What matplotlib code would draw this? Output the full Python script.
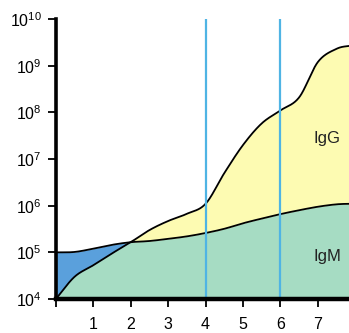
import numpy as np
import matplotlib
matplotlib.use("Agg")
import matplotlib.pyplot as plt

plt.rcParams['font.family'] = ['Liberation Sans Narrow', 'Liberation Sans', 'DejaVu Sans']
plt.rcParams['mathtext.default'] = 'regular'

# months after birth
months = [0, 0.5, 1, 1.5, 2, 2.5, 3, 3.5, 4, 4.5, 5, 5.5, 6, 6.5, 7, 7.5, 7.9]
# upper curve in first 2 months, then IgM
igm_curve = [1e5, 1.02e5, 1.2e5, 1.45e5, 1.65e5, 1.75e5, 1.95e5, 2.2e5, 2.6e5,
             3.2e5, 4.2e5, 5.3e5, 6.6e5, 8e5, 9.5e5, 1.07e6, 1.1e6]
# rising curve, then IgG
igg_curve = [1e4, 3.0e4, 5.3e4, 9.5e4, 1.65e5, 3e5, 4.7e5, 6.7e5, 1.1e6,
             5e6, 2e7, 5.8e7, 1.1e8, 2.1e8, 1.2e9, 2.3e9, 2.7e9]
xtick_labels = ['', '1', '2', '3', '4', '5', '6', '7']
vlines = [4, 6]


def smooth(x, y, n=400):
    # catmull-rom through the points, in log space
    x = np.asarray(x, float)
    ly = np.log10(y)
    px = np.concatenate([[2 * x[0] - x[1]], x, [2 * x[-1] - x[-2]]])
    py = np.concatenate([[2 * ly[0] - ly[1]], ly, [2 * ly[-1] - ly[-2]]])
    xs, ys = [], []
    for i in range(1, len(px) - 2):
        t = np.linspace(0, 1, 40, endpoint=False)
        for arr, out in ((px, xs), (py, ys)):
            p0, p1, p2, p3 = arr[i - 1], arr[i], arr[i + 1], arr[i + 2]
            out.extend(0.5 * ((2 * p1) + (-p0 + p2) * t
                              + (2 * p0 - 5 * p1 + 4 * p2 - p3) * t ** 2
                              + (-p0 + 3 * p1 - 3 * p2 + p3) * t ** 3))
    xs.append(x[-1]); ys.append(ly[-1])
    return np.array(xs), 10 ** np.array(ys)


xs, a = smooth(months, igm_curve)
_, b = smooth(months, igg_curve)

fig = plt.figure(figsize=(3.49, 3.33), dpi=100)
ax = fig.add_axes([0.160, 0.102, 0.84, 0.841])

ax.fill_between(xs, 1e4, np.minimum(a, b), color='#a6dcc3', lw=0)
ax.fill_between(xs, b, a, where=a >= b, interpolate=True, color='#5aa0dc', lw=0)
ax.fill_between(xs, a, b, where=b >= a, interpolate=True, color='#fdfbb2', lw=0)
ax.plot(xs, a, color='black', lw=1.3)
ax.plot(xs, b, color='black', lw=1.3)
for v in vlines:
    ax.axvline(v, color='#4fb4e4', lw=1.6)

ax.text(7.25, 2.8e7, 'IgG', fontsize=12, color='#222222', ha='center', va='center')
ax.text(7.25, 8e4, 'IgM', fontsize=12, color='#222222', ha='center', va='center')

ax.set_yscale('log')
ax.set_ylim(1e4, 1e10)
ax.set_xlim(0, 7.83)
ax.set_yticks([10.0 ** k for k in range(4, 11)])
ax.set_yticklabels(['$10^{%d}$' % k for k in range(4, 11)])
ax.yaxis.set_minor_locator(matplotlib.ticker.NullLocator())
ax.set_xticks(range(8))
ax.set_xticklabels(xtick_labels)
ax.tick_params(axis='both', labelsize=11.5, length=6, width=1.3, direction='out')
ax.tick_params(axis='y', pad=4)
ax.tick_params(axis='x', pad=7)

for s in ['top', 'right']:
    ax.spines[s].set_visible(False)
ax.spines['left'].set_linewidth(2.6)
ax.spines['bottom'].set_linewidth(3.2)

fig.savefig('out.png', dpi=100)
